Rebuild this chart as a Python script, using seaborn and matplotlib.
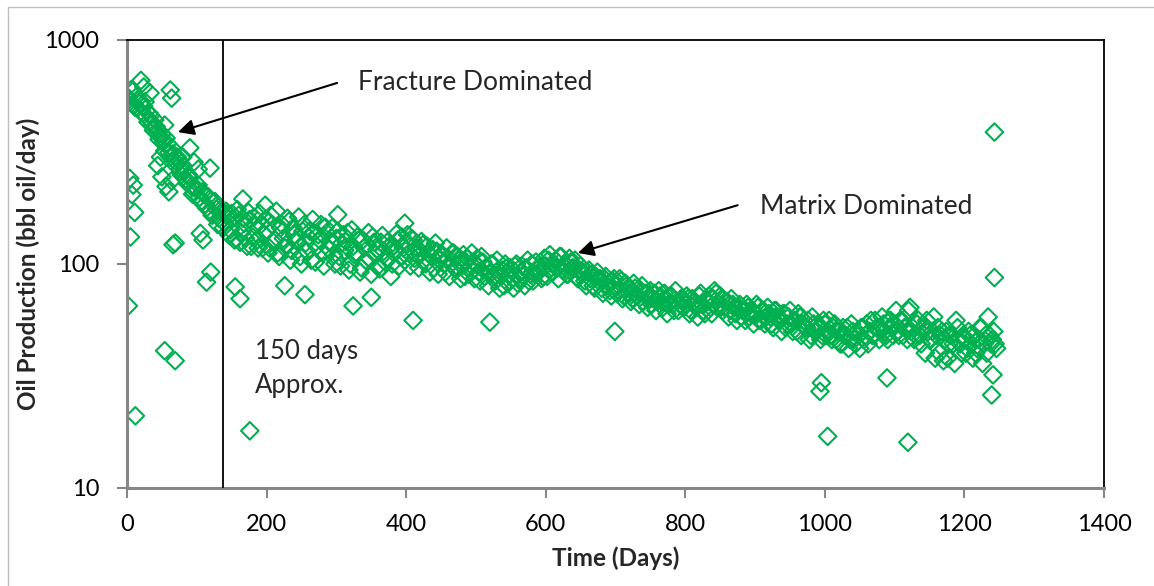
import numpy as np
import pandas as pd
import matplotlib
matplotlib.use("Agg")
import matplotlib.pyplot as plt
import matplotlib.ticker as mticker
from matplotlib.lines import Line2D
import seaborn as sns

# Oil rate readings (bbl oil/day). Two interleaved gauge runs:
# run A on days 0, 4, 8, ... and run B on days 2, 6, 10, ...
day_step = 4
rate_run_a = [
    # days 0-96
    560, 530, 590, 500, 545, 480, 505, 455, 470, 420, 440, 385, 370,
    350, 365, 315, 330, 290, 300, 265, 275, 240, 250, 222, 208,
    # days 100-196
    215, 198, 210, 185, 200, 172, 188, 176, 160, 170, 152, 168, 142,
    160, 130, 165, 138, 152, 120, 158, 132, 148, 118, 150, 136,
    # days 200-296
    142, 118, 150, 128, 112, 145, 130, 122, 155, 115, 135, 126, 108,
    140, 124, 132, 104, 138, 120, 128, 112, 146, 118, 125, 110,
    # days 300-396
    130, 108, 124, 115, 138, 100, 120, 112, 128, 96, 118, 122, 105,
    132, 110, 98, 125, 114, 106, 120, 100, 116, 128, 108, 118,
    # days 400-496
    125, 112, 130, 106, 118, 110, 122, 100, 112, 108, 96, 114, 104,
    110, 92, 106, 100, 112, 94, 104, 98, 88, 106, 96, 102,
    # days 500-596
    100, 92, 108, 88, 96, 90, 100, 84, 94, 88, 80, 96, 90,
    86, 98, 82, 92, 88, 96, 84, 100, 90, 94, 98, 88,
    # days 600-696
    98, 104, 92, 100, 96, 108, 94, 100, 90, 102, 96, 88, 94,
    90, 84, 92, 86, 80, 88, 84, 78, 86, 80, 76, 84,
    # days 700-796
    80, 76, 84, 72, 80, 74, 70, 78, 72, 76, 68, 74, 70,
    66, 74, 68, 72, 64, 70, 66, 72, 62, 68, 66, 70,
    # days 800-896
    66, 70, 62, 68, 64, 72, 66, 60, 68, 64, 70, 74, 66,
    70, 64, 68, 62, 66, 60, 64, 58, 62, 66, 58, 62,
    # days 900-996
    60, 64, 56, 62, 58, 60, 54, 62, 58, 56, 60, 52, 58,
    54, 56, 50, 58, 54, 52, 56, 48, 54, 50, 52, 48,
    # days 1000-1096
    54, 50, 48, 52, 46, 50, 44, 48, 52, 46, 50, 44, 48,
    52, 46, 54, 50, 48, 56, 52, 50, 54, 48, 56, 52,
    # days 1100-1196
    54, 50, 56, 48, 52, 62, 50, 46, 54, 48, 52, 40, 50,
    46, 58, 48, 40, 50, 46, 38, 48, 44, 56, 46, 40,
    # days 1200-1244
    46, 42, 48, 38, 40, 46, 52, 44, 40, 48, 46, 44,
]
rate_run_b = [
    # days 2-98
    540, 600, 510, 560, 520, 470, 530, 430, 460, 395, 410, 360, 380,
    320, 345, 300, 310, 275, 290, 250, 262, 230, 242, 205, 220,
    # days 102-198
    225, 190, 205, 178, 195, 165, 190, 150, 175, 145, 172, 135, 168,
    128, 175, 125, 160, 130, 170, 120, 162, 128, 168, 118, 158,
    # days 202-298
    112, 165, 125, 172, 108, 150, 118, 160, 104, 145, 128, 162, 100,
    150, 114, 140, 158, 102, 135, 150, 98, 138, 116, 145, 100,
    # days 302-398
    140, 98, 135, 126, 94, 142, 110, 132, 92, 128, 104, 138, 90,
    125, 116, 95, 134, 102, 126, 88, 120, 136, 98, 132, 104,
    # days 402-498
    135, 98, 128, 118, 96, 126, 104, 120, 92, 116, 124, 90, 110,
    100, 118, 88, 112, 96, 108, 86, 110, 102, 90, 112, 86,
    # days 502-598
    106, 84, 102, 96, 80, 100, 88, 104, 78, 94, 100, 82, 96,
    78, 100, 86, 98, 80, 104, 90, 84, 102, 92, 86, 106,
    # days 602-698
    88, 110, 92, 104, 86, 108, 98, 90, 106, 96, 104, 86, 98,
    92, 80, 94, 90, 78, 92, 86, 74, 88, 82, 72, 86,
    # days 702-798
    74, 86, 70, 82, 78, 68, 82, 72, 66, 80, 74, 64, 76,
    70, 62, 76, 68, 74, 60, 72, 66, 76, 62, 70, 64,
    # days 802-898
    72, 60, 70, 66, 58, 74, 62, 68, 72, 60, 76, 64, 72,
    62, 68, 58, 70, 64, 56, 66, 62, 56, 64, 60, 54,
    # days 902-998
    66, 56, 62, 54, 64, 58, 52, 62, 56, 50, 60, 54, 62,
    50, 56, 60, 48, 56, 52, 46, 58, 50, 54, 46, 56,
    # days 1002-1098
    48, 56, 46, 54, 50, 44, 52, 48, 42, 54, 46, 50, 42,
    52, 48, 44, 56, 48, 52, 46, 58, 50, 46, 56, 48,
    # days 1102-1198
    62, 48, 56, 52, 46, 64, 52, 48, 56, 44, 52, 56, 46,
    50, 38, 52, 48, 37, 50, 44, 48, 36, 52, 44, 48,
    # days 1202-1246
    40, 50, 44, 48, 42, 52, 36, 48, 58, 44, 50, 42,
]

# Off-trend readings (day, bbl oil/day)
extra_days = [2, 4, 5, 7, 9, 11, 12, 20, 24, 33, 54, 62, 64, 54, 69,
              66, 69, 90, 105, 109, 114, 119, 120, 155, 162, 166, 176,
              198, 226, 255, 302, 324, 350, 398, 410, 520, 699, 993,
              995, 1004, 1089, 1119, 1239, 1241, 1243, 1243,
              44, 48, 50, 56, 60, 64, 80, 96, 102]
extra_rate = [65, 241, 132, 204, 225, 170, 21, 660, 617, 580, 417, 598,
              550, 41, 37, 122, 124, 330, 137, 128, 83, 268, 92, 79, 70,
              195, 18, 183, 80, 73, 166, 65, 71, 152, 56, 55, 50, 27,
              29.5, 17, 31, 16, 26, 32, 388, 87,
              275, 300, 245, 222, 210, 235, 300, 285, 265]

x_ticks = [0, 200, 400, 600, 800, 1000, 1200, 1400]
y_ticks = [10, 100, 1000]
transition_day = 138

days_a = np.arange(len(rate_run_a)) * day_step
days_b = np.arange(len(rate_run_b)) * day_step + day_step // 2
df = pd.DataFrame({
    "day": np.concatenate([days_a, days_b, extra_days]),
    "rate": np.concatenate([rate_run_a, rate_run_b, extra_rate]),
})

sns.set_theme(style="white")
plt.rcParams["font.family"] = ["Lato", "DejaVu Sans"]

green = "#00B050"
fig = plt.figure(figsize=(11.54, 5.86), dpi=100)
ax = fig.add_axes([127 / 1154, 1 - 488 / 586, (1104 - 127) / 1154, (488 - 40) / 586])

sns.scatterplot(data=df, x="day", y="rate", ax=ax, marker="D", s=80,
                color=green, facecolor="none", edgecolor=green,
                linewidth=1.5, legend=False, zorder=2)

ax.set_yscale("log")
ax.set_xlim(0, 1400)
ax.set_ylim(10, 1000)
ax.xaxis.set_major_locator(mticker.FixedLocator(x_ticks))
ax.yaxis.set_major_locator(mticker.FixedLocator(y_ticks))
ax.yaxis.set_major_formatter(mticker.FixedFormatter([str(v) for v in y_ticks]))
ax.yaxis.set_minor_locator(mticker.NullLocator())

gray = "#868686"
for side in ("left", "bottom"):
    ax.spines[side].set_color(gray)
    ax.spines[side].set_linewidth(2.2)
for side in ("top", "right"):
    ax.spines[side].set_color("black")
    ax.spines[side].set_linewidth(1.3)

ax.tick_params(axis="both", which="major", direction="out", length=7,
               width=1.5, color=gray, labelsize=17, labelcolor="black")
ax.tick_params(axis="y", left=True, pad=13)
ax.tick_params(axis="x", bottom=True, pad=12)

ax.set_xlabel("Time (Days)", fontsize=17.5, fontweight="bold", labelpad=8)
ax.set_ylabel("Oil Production (bbl oil/day)", fontsize=17.5,
              fontweight="bold", va="center")
ax.yaxis.set_label_coords(-0.101, 0.5)

ax.axvline(transition_day, color="black", lw=1.3, zorder=3)

arrow_kw = dict(arrowstyle="-|>", color="black", lw=1.5, mutation_scale=24,
                shrinkA=0, shrinkB=0)
ax.annotate("", xy=(73, 388), xytext=(301, 643), arrowprops=arrow_kw, zorder=4)
ax.annotate("", xy=(646, 112), xytext=(875, 183), arrowprops=arrow_kw, zorder=4)

ax.text(331, 643, "Fracture Dominated", fontsize=19, va="center", ha="left")
ax.text(907, 180, "Matrix Dominated", fontsize=19, va="center", ha="left")
ax.text(183, 40.5, "150 days", fontsize=18.5, va="center", ha="left")
ax.text(183, 28.8, "Approx.", fontsize=18.5, va="center", ha="left")

# Thin chart-area border along the top and left
border = "#bfbfbf"
fig.add_artist(Line2D([8 / 1154, 1.0], [1 - 7 / 586, 1 - 7 / 586],
                      transform=fig.transFigure, color=border, lw=1.0))
fig.add_artist(Line2D([8 / 1154, 8 / 1154], [0.0, 1 - 7 / 586],
                      transform=fig.transFigure, color=border, lw=1.0))

fig.savefig("out.png", dpi=100)
